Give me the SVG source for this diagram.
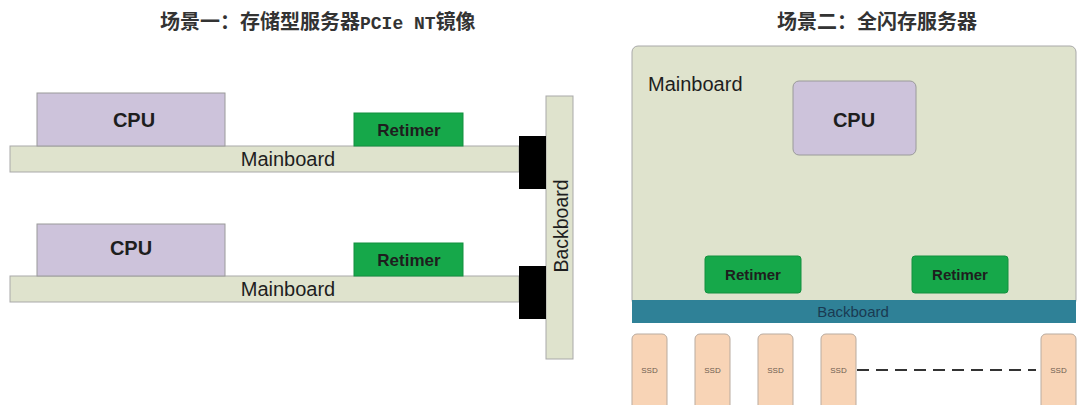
<svg xmlns="http://www.w3.org/2000/svg" width="1082" height="405" viewBox="0 0 1082 405">
<style>
.title{font-family:"Noto Sans CJK SC","Liberation Sans",sans-serif;font-weight:bold;font-size:20px;fill:#333;}
.cpu{fill:#cdc3db;stroke:#9a9a9a;stroke-width:1;}
.ret{fill:#16a84a;stroke:#13903f;stroke-width:1;}
.mb{fill:#dfe3cd;stroke:#a9a9a9;stroke-width:1;}
.blk{fill:#000;}
.ssd{fill:#f8d4b6;stroke:#b9ab9f;stroke-width:1;}
.lbl-b{font-family:"Liberation Sans",Arial,sans-serif;font-weight:bold;fill:#1e1e1e;text-anchor:middle;}
.lbl{font-family:"Liberation Sans",Arial,sans-serif;fill:#1e1e1e;text-anchor:middle;}
.ssdt{font-family:"Liberation Sans",Arial,sans-serif;font-size:8px;fill:#6e5d50;text-anchor:middle;}
</style>
<rect width="1082" height="405" fill="#fff"/>
<text class="title" x="160" y="29">场景一：存储型服务器<tspan font-family="'Liberation Mono','DejaVu Sans Mono',monospace" font-size="18">PCIe NT</tspan>镜像</text>
<text class="title" x="877" y="29" text-anchor="middle">场景二：全闪存服务器</text>

<g id="backboard1">
<rect class="mb" x="546" y="96" width="27" height="263"/>
<text class="lbl" font-size="19.5" transform="translate(568,226) rotate(-90)">Backboard</text>
</g>

<g id="server1">
<rect class="mb" x="10" y="146" width="509" height="26"/>
<text class="lbl" font-size="20" x="288" y="166">Mainboard</text>
<rect class="cpu" x="37" y="93" width="188" height="53"/>
<text class="lbl-b" font-size="20" x="134" y="127">CPU</text>
<rect class="ret" x="354" y="113" width="109" height="33"/>
<text class="lbl-b" font-size="17" x="409" y="136">Retimer</text>
<rect class="blk" x="519" y="136" width="27" height="53"/>
</g>

<g id="server2">
<rect class="mb" x="10" y="276" width="509" height="26"/>
<text class="lbl" font-size="20" x="288" y="296">Mainboard</text>
<rect class="cpu" x="37" y="224" width="188" height="52"/>
<text class="lbl-b" font-size="20" x="131" y="255">CPU</text>
<rect class="ret" x="354" y="243" width="109" height="33"/>
<text class="lbl-b" font-size="17" x="409" y="266">Retimer</text>
<rect class="blk" x="519" y="266" width="27" height="53"/>
</g>

<g id="mainboard3">
<rect class="mb" x="632" y="46" width="444" height="260" rx="6"/>
<text class="lbl" font-size="20" x="648" y="91" style="text-anchor:start">Mainboard</text>
</g>
<g id="cpu3">
<rect class="cpu" x="793" y="81" width="123" height="74" rx="6"/>
<text class="lbl-b" font-size="20" x="854" y="127">CPU</text>
</g>
<g id="retimer3a">
<rect class="ret" x="705" y="256" width="96" height="37" rx="3"/>
<text class="lbl-b" font-size="15" x="753" y="280">Retimer</text>
</g>
<g id="retimer3b">
<rect class="ret" x="912" y="256" width="96" height="37" rx="3"/>
<text class="lbl-b" font-size="15" x="960" y="280">Retimer</text>
</g>
<g id="backboard3">
<rect x="632" y="300" width="444" height="23" fill="#2f8197"/>
<text class="lbl" font-size="15" x="853" y="317" style="fill:#1a3a52">Backboard</text>
</g>
<g id="ssd1"><rect class="ssd" x="632" y="334" width="35" height="80" rx="5"/><text class="ssdt" x="649.5" y="373">SSD</text></g>
<g id="ssd2"><rect class="ssd" x="695" y="334" width="35" height="80" rx="5"/><text class="ssdt" x="712.5" y="373">SSD</text></g>
<g id="ssd3"><rect class="ssd" x="758" y="334" width="35" height="80" rx="5"/><text class="ssdt" x="775.5" y="373">SSD</text></g>
<g id="ssd4"><rect class="ssd" x="821" y="334" width="35" height="80" rx="5"/><text class="ssdt" x="838.5" y="373">SSD</text></g>
<g id="ssd5"><rect class="ssd" x="1041" y="334" width="35" height="80" rx="5"/><text class="ssdt" x="1058.5" y="373">SSD</text></g>

<g id="connectors">
<line x1="857" y1="370" x2="1036" y2="370" stroke="#333" stroke-width="2" stroke-dasharray="12,7"/>
</g>
</svg>
